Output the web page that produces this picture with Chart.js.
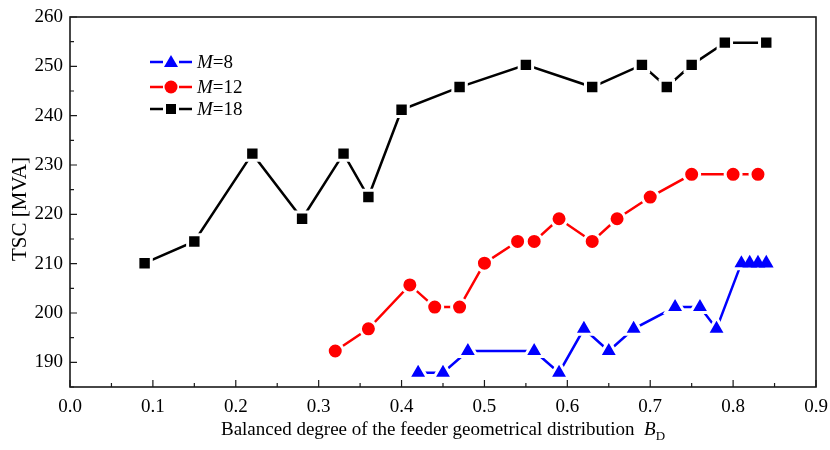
<!DOCTYPE html>
<html>
<head>
<meta charset="utf-8">
<script src="https://cdn.jsdelivr.net/npm/chart.js@4/dist/chart.umd.min.js"></script>
<style>
  html, body { margin: 0; padding: 0; background: #fff; }
  #wrap { width: 830px; height: 450px; }
</style>
</head>
<body>
<div id="wrap"><canvas id="chart" width="830" height="450"></canvas></div>
<script>
// data
const x8 = [0.42, 0.45, 0.48, 0.56, 0.59, 0.62, 0.65, 0.68, 0.73, 0.76, 0.78, 0.81, 0.82, 0.83, 0.84];
const y8 = [187.9, 187.9, 192.3, 192.3, 187.9, 196.8, 192.3, 196.8, 201.2, 201.2, 196.8, 210.1, 210.1, 210.1, 210.1];

const x12 = [0.32, 0.36, 0.41, 0.44, 0.47, 0.50, 0.54, 0.56, 0.59, 0.63, 0.66, 0.70, 0.75, 0.80, 0.83];
const y12 = [192.3, 196.8, 205.7, 201.2, 201.2, 210.1, 214.5, 214.5, 219.1, 214.5, 219.1, 223.5, 228.1, 228.1, 228.1];

const x18 = [0.09, 0.15, 0.22, 0.28, 0.33, 0.36, 0.40, 0.47, 0.55, 0.63, 0.69, 0.72, 0.75, 0.79, 0.84];
const y18 = [210.1, 214.5, 232.3, 219.1, 232.3, 223.5, 241.2, 245.8, 250.3, 245.8, 250.3, 245.8, 250.3, 254.8, 254.8];

const xTicks = [0, 0.1, 0.2, 0.3, 0.4, 0.5, 0.6, 0.7, 0.8, 0.9];
const yTicks = [190, 200, 210, 220, 230, 240, 250, 260];
const seriesNames = ['8', '12', '18'];

const FONT = '"Liberation Serif", "Times New Roman", serif';

function pts(xs, ys) {
  return xs.map((x, i) => ({ x: x, y: ys[i] }));
}

// frame, inward ticks (major + minor), axis titles, legend
const decor = {
  id: 'decor',
  afterDraw(chart) {
    const ctx = chart.ctx;
    const a = chart.chartArea;
    const xs = chart.scales.x, ys = chart.scales.y;
    ctx.save();
    ctx.strokeStyle = '#1a1a1a';
    ctx.lineWidth = 1.6;
    ctx.strokeRect(a.left, a.top, a.right - a.left, a.bottom - a.top);

    ctx.lineWidth = 1.2;
    ctx.beginPath();
    for (let i = 0; i <= 18; i++) {
      const v = i * 0.05;
      const px = xs.getPixelForValue(v);
      const len = i % 2 === 0 ? 7 : 4;
      ctx.moveTo(px, a.bottom);
      ctx.lineTo(px, a.bottom - len);
    }
    for (let v = 185; v <= 260; v += 5) {
      const py = ys.getPixelForValue(v);
      const len = v % 10 === 0 ? 7 : 4;
      ctx.moveTo(a.left, py);
      ctx.lineTo(a.left + len, py);
    }
    ctx.stroke();

    // y title
    ctx.fillStyle = '#000';
    ctx.font = '21px ' + FONT;
    ctx.textAlign = 'center';
    ctx.textBaseline = 'middle';
    ctx.save();
    ctx.translate(20, 209);
    ctx.rotate(-Math.PI / 2);
    ctx.fillText('TSC [MVA]', 0, 0);
    ctx.restore();

    // x title with italic B and subscript D
    const main = 'Balanced degree of the feeder geometrical distribution  ';
    ctx.textAlign = 'left';
    ctx.textBaseline = 'alphabetic';
    ctx.font = '19px ' + FONT;
    const w1 = ctx.measureText(main).width;
    ctx.font = 'italic 19px ' + FONT;
    const w2 = ctx.measureText('B').width;
    ctx.font = '13px ' + FONT;
    const w3 = ctx.measureText('D').width;
    let sx = (a.left + a.right) / 2 - (w1 + w2 + w3) / 2;
    const by = 435;
    ctx.font = '19px ' + FONT;
    ctx.fillText(main, sx, by);
    ctx.font = 'italic 19px ' + FONT;
    ctx.fillText('B', sx + w1, by);
    ctx.font = '13px ' + FONT;
    ctx.fillText('D', sx + w1 + w2, by + 5);

    // legend
    const rows = [62, 87, 109];
    chart.data.datasets.forEach((ds, i) => {
      const y = rows[i];
      ctx.strokeStyle = ds.borderColor;
      ctx.lineWidth = 2.5;
      ctx.beginPath();
      ctx.moveTo(150, y); ctx.lineTo(163, y);
      ctx.moveTo(179, y); ctx.lineTo(192, y);
      ctx.stroke();
      ctx.fillStyle = ds.borderColor;
      ctx.beginPath();
      if (ds.pointStyle === 'triangle') {
        ctx.moveTo(171, y - 7); ctx.lineTo(178, y + 5); ctx.lineTo(164, y + 5);
      } else if (ds.pointStyle === 'circle') {
        ctx.arc(171, y, 6.5, 0, Math.PI * 2);
      } else {
        ctx.rect(166, y - 5, 10, 10);
      }
      ctx.closePath();
      ctx.fill();
      ctx.fillStyle = '#000';
      ctx.textBaseline = 'middle';
      ctx.font = 'italic 19px ' + FONT;
      ctx.fillText('M', 197, y + 1);
      const mw = ctx.measureText('M').width;
      ctx.font = '19px ' + FONT;
      ctx.fillText('=' + seriesNames[i], 197 + mw, y + 1);
    });
    ctx.restore();
  }
};

const common = {
  showLine: true,
  borderWidth: 2.5,
  pointBorderColor: '#fff',
  pointBorderWidth: 3,
  pointHoverRadius: 0,
  tension: 0,
  fill: false
};

new Chart(document.getElementById('chart'), {
  type: 'scatter',
  data: {
    datasets: [
      Object.assign({}, common, {
        label: 'M=8', data: pts(x8, y8),
        borderColor: '#0000ff', backgroundColor: '#0000ff',
        pointStyle: 'triangle',
        // the tight cluster at the right end touches, no white rim there
        pointRadius: c => (c.dataIndex >= 12 ? 8.5 : 11),
        pointBorderWidth: c => (c.dataIndex >= 12 ? 0 : 3)
      }),
      Object.assign({}, common, {
        label: 'M=12', data: pts(x12, y12),
        borderColor: '#ff0000', backgroundColor: '#ff0000',
        pointStyle: 'circle', pointRadius: 8
      }),
      Object.assign({}, common, {
        label: 'M=18', data: pts(x18, y18),
        borderColor: '#000000', backgroundColor: '#000000',
        pointStyle: 'rect', pointRadius: 9.5
      })
    ]
  },
  options: {
    responsive: false,
    animation: false,
    layout: { padding: { top: 17, right: 12, left: 0, bottom: 0 } },
    plugins: { legend: { display: false }, tooltip: { enabled: false } },
    scales: {
      x: {
        type: 'linear', min: 0, max: 0.9,
        afterBuildTicks: s => { s.ticks = xTicks.map(v => ({ value: v })); },
        afterFit: s => { s.height = 63; s.paddingLeft = 0; s.paddingRight = 0; },
        grid: { display: false, drawTicks: false },
        border: { display: false },
        ticks: {
          padding: 9, color: '#000', maxRotation: 0,
          font: { family: FONT, size: 19 },
          callback: v => Number(v).toFixed(1)
        }
      },
      y: {
        type: 'linear', min: 185, max: 260,
        afterBuildTicks: s => { s.ticks = yTicks.map(v => ({ value: v })); },
        afterFit: s => { s.width = 70; s.paddingTop = 0; s.paddingBottom = 0; },
        grid: { display: false, drawTicks: false },
        border: { display: false },
        ticks: {
          padding: 7, color: '#000',
          font: { family: FONT, size: 19 }
        }
      }
    }
  },
  plugins: [decor]
});
</script>
</body>
</html>
